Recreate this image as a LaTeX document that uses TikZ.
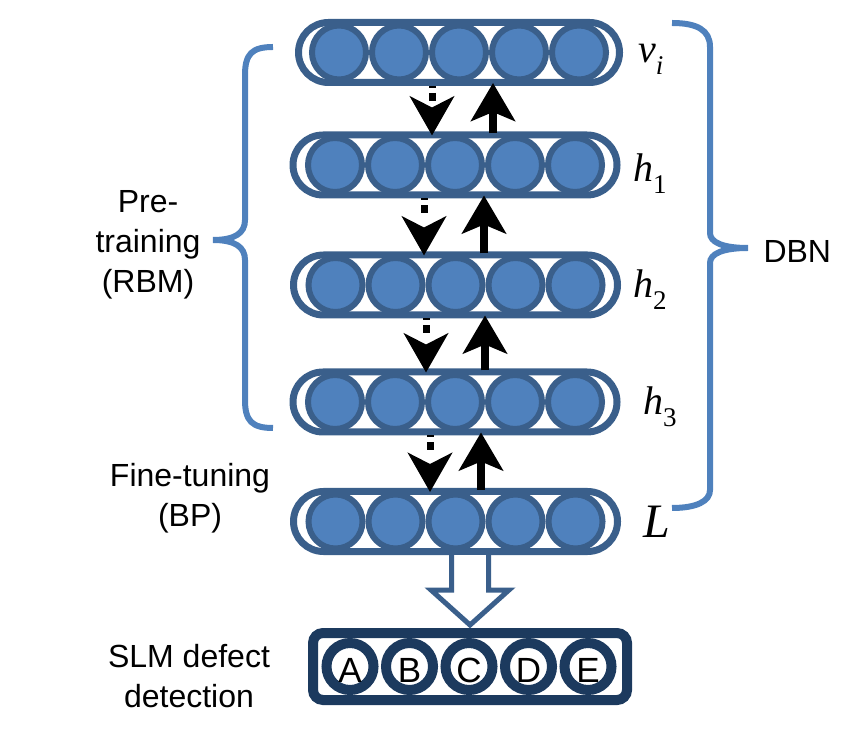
\documentclass[tikz,border=0pt]{standalone}
\usepackage{fontspec}
\setmainfont{Liberation Serif}
\setsansfont{Liberation Sans}
\usetikzlibrary{arrows.meta, calc}

\definecolor{unitblue}{HTML}{4F81BD}
\definecolor{rimblue}{HTML}{3A5F8B}
\definecolor{navy}{HTML}{1C3A5E}

\newcommand{\layerlab}[2]{\fontsize{40}{40}\selectfont\textit{#1}\raisebox{-12pt}{\fontsize{27}{27}\selectfont #2}}

\begin{document}
\begin{tikzpicture}[x = 1pt, y = 1pt,
	rbmlayer/.style = {draw = rimblue, fill = white, line width = 7pt, rounded corners = 30pt, minimum width = 324pt, minimum height = 60pt, inner sep = 0pt},
	neuron/.style = {draw = rimblue, fill = unitblue, line width = 6pt},
	outbox/.style = {draw = navy, fill = white, line width = 10pt, rounded corners = 10pt, minimum width = 314pt, minimum height = 67pt, inner sep = 0pt},
	outunit/.style = {draw = navy, fill = white, line width = 10pt},
	bracket/.style = {draw = unitblue, line width = 6pt},
	tag/.style = {font = \sffamily\fontsize{32}{40}\selectfont, align = center},
	downarr/.style = {line width = 7pt, dash pattern = on 2pt off 5pt on 8pt off 30pt, -{Stealth[length = 39pt, width = 44pt, inset = 11pt]}, shorten > = -4pt},
	uparr/.style = {line width = 8pt, -{Stealth[length = 38pt, width = 44pt, inset = 9pt]}, shorten > = -3pt, shorten < = -2pt},
	fatarr/.style = {draw = rimblue, fill = white, line width = 5pt}]
	
	\useasboundingbox (0, 0) rectangle (858, 736);
	
	% Layers of units
	
	\node [rbmlayer, minimum width = 321pt] (vi) at (459, 683.5) {};
	\node [rbmlayer] (h1) at (455, 571) {};
	\node [rbmlayer] (h2) at (455.5, 451) {};
	\node [rbmlayer] (h3) at (455, 334) {};
	\node [rbmlayer] (L) at (455.5, 214.5) {};
	
	\foreach \l in {vi, h1, h2, h3, L}
		\foreach \i in {-2, ..., 2}
			\draw [neuron] ([xshift = \i * 60pt] \l.center) circle (27pt);
	
	% Output classes
	
	\node [outbox] (out) at (470, 69.5) {};
	
	\foreach \t [count = \i from -2] in {A, B, C, D, E}
	{
		\draw [outunit] ([xshift = \i * 59.5pt - 1pt] out.center) circle (23.5pt);
		\node [font = \sffamily\fontsize{35}{35}\selectfont] (o\t) at ([xshift = \i * 59.5pt - 1pt, yshift = -4pt] out.center) {\t};
	}
	
	\draw [fatarr] ($(L.south -| out.north) + (-18.5, 0)$) -- ($(out.north) + (-18.5, 38)$) -- ($(out.north) + (-39, 38)$) -- ($(out.north) + (0, 3)$) -- ($(out.north) + (39, 38)$) -- ($(out.north) + (18.5, 38)$) -- ($(L.south -| out.north) + (18.5, 0)$);
	
	% Arrows between layers
	
	\foreach \a/\b/\dx/\ux in {vi/h1/-27/34, h1/h2/-31/29, h2/h3/-29.5/29.5, h3/L/-25/26}
	{
		\draw [downarr] ($(\a.south) + (\dx, 0)$) -- ($(\a.south |- \b.north) + (\dx, 0)$);
		\draw [uparr] ($(\a.south |- \b.north) + (\ux, 0)$) -- ($(\a.south) + (\ux, 0)$);
	}
	
	% Layer labels
	
	\node [anchor = base west, inner sep = 0pt] (lvi) at (638, 673) {\layerlab{v}{\textit{i}}};
	\node [anchor = base west, inner sep = 0pt] (lh1) at (633, 554) {\layerlab{h}{1}};
	\node [anchor = base west, inner sep = 0pt] (lh2) at (633, 438) {\layerlab{h}{2}};
	\node [anchor = base west, inner sep = 0pt] (lh3) at (643, 321) {\layerlab{h}{3}};
	\node [anchor = base west, inner sep = 0pt] (lL) at (643, 199) {\fontsize{48}{48}\selectfont\textit{L}};
	
	% Braces w stage labels
	
	\draw [bracket] (273, 689) .. controls (252, 689) and (245, 682) .. (245, 661) -- (245, 516) .. controls (245, 503) and (235, 496) .. (213, 496) .. controls (235, 496) and (245, 489) .. (245, 476) -- (245, 336) .. controls (245, 315) and (252, 308) .. (273, 308);
	
	\draw [bracket] (672, 713) .. controls (697, 713) and (710, 706) .. (710, 689) -- (710, 503) .. controls (710, 494) and (722, 488) .. (748, 488) .. controls (722, 488) and (710, 482) .. (710, 473) -- (710, 246) .. controls (710, 235) and (697, 228) .. (672, 228);
	
	\node [tag] (pre) at (148, 491) {Pre-\\training\\(RBM)};
	\node [tag] (fine) at (190, 238) {Fine-tuning\\(BP)};
	\node [tag] (slm) at (189, 60) {SLM defect\\detection};
	\node [tag, anchor = base west] (dbn) at (760, 473) {DBN};
	
\end{tikzpicture}
\end{document}
